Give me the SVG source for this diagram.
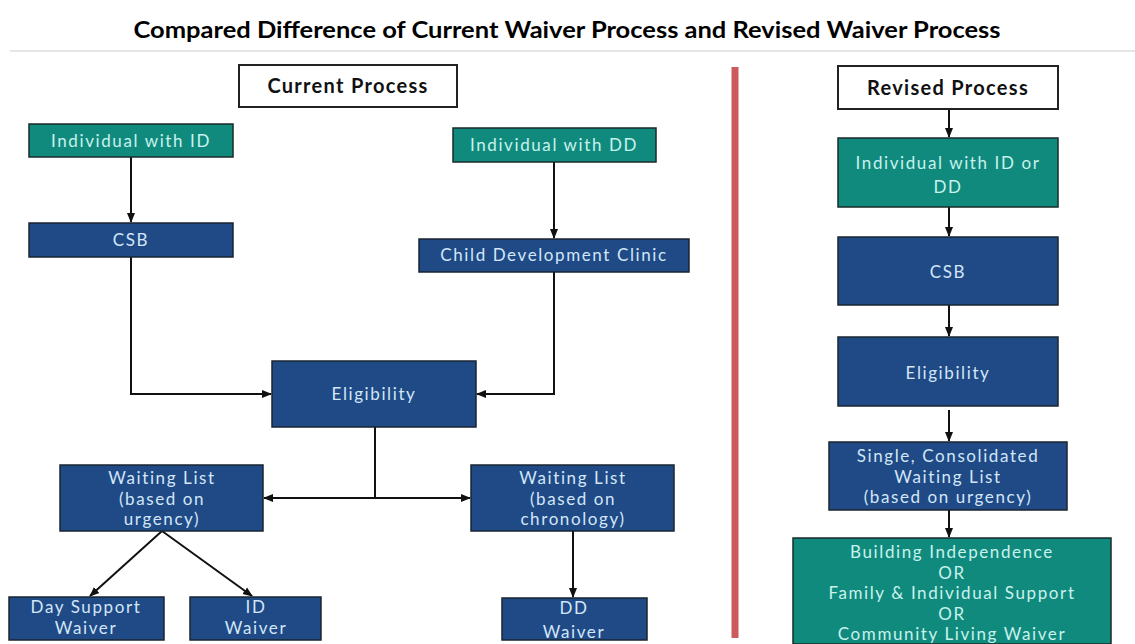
<svg xmlns="http://www.w3.org/2000/svg" width="1135" height="644" viewBox="0 0 1135 644">
<style>
.title{font-family:Lato,"Liberation Sans",sans-serif;font-weight:bold;font-size:22px;fill:#000}
.hdr{font-family:Lato,"Liberation Sans",sans-serif;font-weight:bold;font-size:20px;letter-spacing:1.3px;fill:#111;text-anchor:middle}
.t{font-family:Lato,"Liberation Sans",sans-serif;font-size:17px;letter-spacing:1.6px;text-anchor:middle}
.blue rect{fill:#1F4A86;stroke:#1a2530;stroke-width:1.5}
.blue text{fill:#D3E6F8}
.teal rect{fill:#118A7E;stroke:#1a2a2a;stroke-width:1.5}
.teal text{fill:#C8F2EC}
.white rect{fill:#fff;stroke:#222;stroke-width:2}
.conn{fill:none;stroke:#111;stroke-width:2}
</style>
<defs>
<marker id="ah" viewBox="0 0 10 10" refX="9" refY="5" markerWidth="5" markerHeight="5" orient="auto-start-reverse" markerUnits="strokeWidth">
<path d="M0,1 L10,5 L0,9 z" fill="#111"/>
</marker>
</defs>
<rect width="1135" height="644" fill="#fff"/>
<text class="title" x="567" y="38" text-anchor="middle" textLength="867" lengthAdjust="spacingAndGlyphs">Compared Difference of Current Waiver Process and Revised Waiver Process</text>
<line x1="10" y1="51" x2="1135" y2="51" stroke="#e6e6e6" stroke-width="2"/>
<line x1="735" y1="67" x2="735" y2="638" stroke="#CC5A5C" stroke-width="7"/>

<g id="connectors">
<line class="conn" x1="131" y1="157" x2="131" y2="222" marker-end="url(#ah)"/>
<line class="conn" x1="554" y1="162" x2="554" y2="238" marker-end="url(#ah)"/>
<polyline class="conn" points="131,257 131,394 271,394" marker-end="url(#ah)"/>
<polyline class="conn" points="554,272 554,394 477,394" marker-end="url(#ah)"/>
<line class="conn" x1="375" y1="427" x2="375" y2="498"/>
<line class="conn" x1="264" y1="498" x2="470" y2="498" marker-start="url(#ah)" marker-end="url(#ah)"/>
<line class="conn" x1="162" y1="531" x2="90" y2="596" marker-end="url(#ah)"/>
<line class="conn" x1="162" y1="531" x2="252" y2="596" marker-end="url(#ah)"/>
<line class="conn" x1="573" y1="531" x2="573" y2="597" marker-end="url(#ah)"/>
<line class="conn" x1="949" y1="109" x2="949" y2="137" marker-end="url(#ah)"/>
<line class="conn" x1="949" y1="207" x2="949" y2="236" marker-end="url(#ah)"/>
<line class="conn" x1="949" y1="305" x2="949" y2="336" marker-end="url(#ah)"/>
<line class="conn" x1="949" y1="410" x2="949" y2="441" marker-end="url(#ah)"/>
<line class="conn" x1="949" y1="510" x2="949" y2="537" marker-end="url(#ah)"/>
</g>

<g id="current-process" class="white">
<rect x="239" y="65" width="218" height="42"/>
<text class="hdr" x="348" y="93">Current Process</text>
</g>
<g id="individual-id" class="teal">
<rect x="29" y="124" width="204" height="33"/>
<text class="t" x="131" y="147">Individual with ID</text>
</g>
<g id="csb-left" class="blue">
<rect x="29" y="223" width="204" height="34"/>
<text class="t" x="131" y="246">CSB</text>
</g>
<g id="individual-dd" class="teal">
<rect x="453" y="128" width="203" height="34"/>
<text class="t" x="554" y="151">Individual with DD</text>
</g>
<g id="child-dev-clinic" class="blue">
<rect x="419" y="239" width="270" height="33"/>
<text class="t" x="554" y="261">Child Development Clinic</text>
</g>
<g id="eligibility-left" class="blue">
<rect x="272" y="361" width="204" height="66"/>
<text class="t" x="374" y="400">Eligibility</text>
</g>
<g id="waiting-urgency" class="blue">
<rect x="60" y="465" width="203" height="66"/>
<text class="t" x="162" y="484">Waiting List</text>
<text class="t" x="162" y="504.5">(based on</text>
<text class="t" x="162" y="525">urgency)</text>
</g>
<g id="waiting-chronology" class="blue">
<rect x="471" y="465" width="203" height="66"/>
<text class="t" x="573" y="484">Waiting List</text>
<text class="t" x="573" y="504.5">(based on</text>
<text class="t" x="573" y="525">chronology)</text>
</g>
<g id="day-support-waiver" class="blue">
<rect x="9" y="597" width="155" height="43"/>
<text class="t" x="86" y="613">Day Support</text>
<text class="t" x="86" y="634">Waiver</text>
</g>
<g id="id-waiver" class="blue">
<rect x="190" y="597" width="131" height="43"/>
<text class="t" x="256" y="613">ID</text>
<text class="t" x="256" y="634">Waiver</text>
</g>
<g id="dd-waiver" class="blue">
<rect x="502" y="598" width="145" height="42"/>
<text class="t" x="574" y="614">DD</text>
<text class="t" x="574" y="638">Waiver</text>
</g>

<g id="revised-process" class="white">
<rect x="838" y="66" width="220" height="43"/>
<text class="hdr" x="948" y="95">Revised Process</text>
</g>
<g id="individual-id-dd" class="teal">
<rect x="838" y="138" width="220" height="69"/>
<text class="t" x="948" y="169">Individual with ID or</text>
<text class="t" x="948" y="193">DD</text>
</g>
<g id="csb-right" class="blue">
<rect x="838" y="237" width="220" height="68"/>
<text class="t" x="948" y="278">CSB</text>
</g>
<g id="eligibility-right" class="blue">
<rect x="838" y="337" width="220" height="69"/>
<text class="t" x="948" y="379">Eligibility</text>
</g>
<g id="single-waiting-list" class="blue">
<rect x="829" y="442" width="238" height="68"/>
<text class="t" x="948" y="461.5">Single, Consolidated</text>
<text class="t" x="948" y="482.5">Waiting List</text>
<text class="t" x="948" y="503">(based on urgency)</text>
</g>
<g id="waiver-options" class="teal">
<rect x="793" y="538" width="318" height="106"/>
<text class="t" x="952" y="558">Building Independence</text>
<text class="t" x="952" y="578.5">OR</text>
<text class="t" x="952" y="599">Family &amp; Individual Support</text>
<text class="t" x="952" y="619.5">OR</text>
<text class="t" x="952" y="640">Community Living Waiver</text>
</g>
</svg>
